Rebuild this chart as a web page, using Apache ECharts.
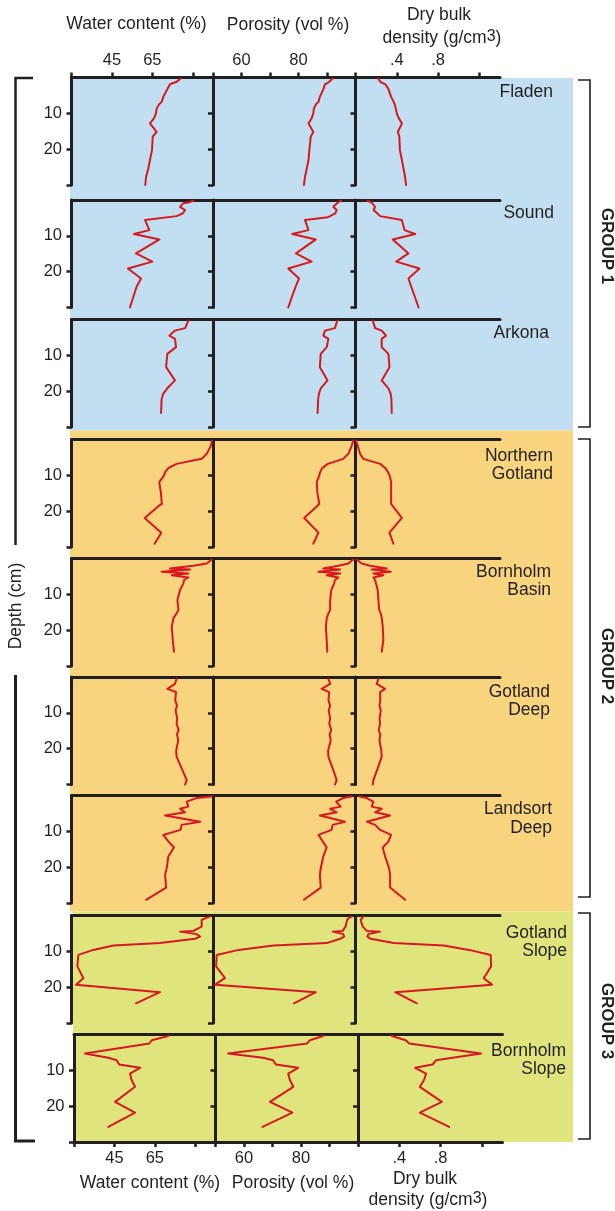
<!DOCTYPE html>
<html>
<head>
<meta charset="utf-8">
<script src="https://cdn.jsdelivr.net/npm/echarts@6/dist/echarts.min.js"></script>
<style>
  html, body { margin: 0; padding: 0; background: #ffffff; }
  #chart { width: 615px; height: 1211px; }
</style>
</head>
<body>
<div id="chart"></div>
<script>
// Sediment cores of the Baltic region: water content, porosity and dry bulk
// density against depth below the sediment surface (cm).

const stations = ['Fladen', 'Sound', 'Arkona', 'Northern\nGotland', 'Bornholm\nBasin',
                  'Gotland\nDeep', 'Landsort\nDeep', 'Gotland\nSlope', 'Bornholm\nSlope'];

const fladenDepth    = [0.3, 1.2, 1.9, 3.3, 5.4, 6.8, 7.5, 8.7, 10, 11.4, 12.8, 15.2, 16.5, 20.3, 23.1, 25.4, 27.7, 30];
const fladenWater    = [79.0, 77.0, 73.7, 72.4, 70.4, 69.6, 68.3, 67.1, 66.8, 65.8, 63.8, 67.1, 65.2, 64.8, 63.8, 63.0, 61.9, 61.5];
const fladenPorosity = [92.0, 90.8, 89.3, 88.7, 87.5, 87.0, 86.1, 85.4, 85.2, 84.6, 83.5, 85.2, 84.3, 83.8, 83.5, 82.9, 82.3, 81.9];
const fladenDensity  = [0.22, 0.24, 0.29, 0.32, 0.345, 0.37, 0.38, 0.39, 0.40, 0.42, 0.45, 0.41, 0.425, 0.43, 0.45, 0.465, 0.48, 0.49];

const soundDepth    = [0.2, 0.7, 0.9, 1.9, 2.8, 3.7, 4.5, 4.8, 5.6, 8.4, 9.5, 11.0, 14.9, 17.2, 19.1, 21.9, 24.2, 27.0, 30];
const soundWater    = [85.3, 82.8, 80.3, 78.7, 81.2, 80.1, 77.0, 76.2, 61.4, 63.5, 55.9, 68.5, 56.9, 65.0, 52.9, 59.4, 57.2, 55.6, 53.9];
const soundPorosity = [94.9, 93.8, 93.2, 92.2, 93.4, 92.9, 91.1, 90.3, 82.3, 83.5, 77.8, 86.1, 79.1, 84.6, 76.4, 80.2, 79.0, 77.7, 76.4];
const soundDensity  = [0.115, 0.157, 0.165, 0.19, 0.175, 0.21, 0.238, 0.25, 0.449, 0.475, 0.578, 0.361, 0.513, 0.394, 0.620, 0.513, 0.54, 0.575, 0.611];

const arkonaDepth    = [0.3, 2.4, 3.1, 4.5, 5.4, 7.7, 9.6, 13.3, 17.0, 19.2, 20.7, 22.1, 26.1];
const arkonaWater    = [82.8, 81.2, 76.2, 73.4, 76.2, 76.7, 72.4, 71.8, 76.2, 72.4, 70.4, 69.6, 69.3];
const arkonaPorosity = [93.6, 92.8, 89.3, 88.7, 90.5, 89.9, 87.8, 87.5, 90.2, 87.8, 87.2, 86.9, 86.7];
const arkonaDensity  = [0.167, 0.19, 0.254, 0.296, 0.254, 0.254, 0.319, 0.329, 0.254, 0.319, 0.34, 0.348, 0.351];

const nGotlandDepth    = [0.3, 1.7, 4.0, 5.4, 6.8, 8.0, 9.1, 10.0, 11.9, 14.7, 18.0, 18.4, 21.9, 26.0, 29.1];
const nGotlandWater    = [94.4, 94.0, 91.9, 89.4, 77.0, 72.9, 71.3, 70.8, 68.4, 69.2, 69.7, 68.4, 61.2, 69.4, 66.1];
const nGotlandPorosity = [99.2, 98.7, 97.5, 95.7, 90.3, 88.3, 87.6, 87.3, 86.4, 86.6, 87.3, 86.6, 82.0, 87.0, 85.2];
const nGotlandDensity  = [0.005, 0.021, 0.044, 0.076, 0.24, 0.29, 0.315, 0.33, 0.345, 0.345, 0.345, 0.352, 0.449, 0.329, 0.368];

const bBasinDepth    = [0.3, 1.4, 2.0, 2.8, 3.1, 3.7, 4.2, 4.7, 5.3, 6.0, 7.0, 8.8, 11.6, 14.4, 15.3, 16.7, 19.1, 22.8, 26.0];
const bBasinWater    = [94.4, 91.9, 85.3, 73.7, 83.6, 69.6, 82.8, 74.6, 82.8, 80.7, 80.3, 78.7, 77.4, 77.9, 77.0, 75.4, 74.6, 75.1, 75.7];
const bBasinPorosity = [99.2, 97.5, 94.0, 88.7, 94.6, 87.0, 94.6, 89.9, 94.0, 92.8, 92.5, 91.5, 91.1, 91.1, 90.5, 89.9, 89.6, 89.9, 90.1];
const bBasinDensity  = [0.011, 0.060, 0.141, 0.303, 0.157, 0.342, 0.173, 0.270, 0.173, 0.190, 0.199, 0.215, 0.222, 0.230, 0.245, 0.255, 0.264, 0.270, 0.254];

const gDeepDepth    = [0.5, 1.9, 3.3, 4.2, 6.5, 8.0, 9.3, 11.5, 13.0, 14.8, 16.0, 17.7, 20.5, 22.3, 25.5, 28.8, 30];
const gDeepWater    = [77.0, 76.2, 72.4, 76.7, 76.3, 77.2, 76.5, 77.3, 77.0, 78.0, 77.2, 77.8, 76.8, 77.0, 79.5, 82.0, 81.2];
const gDeepPorosity = [90.5, 91.1, 88.1, 90.8, 90.5, 91.1, 90.6, 91.1, 90.8, 91.5, 90.9, 91.3, 90.4, 90.5, 92.0, 93.4, 92.8];
const gDeepDensity  = [0.222, 0.206, 0.287, 0.238, 0.240, 0.232, 0.245, 0.233, 0.238, 0.225, 0.240, 0.232, 0.250, 0.254, 0.215, 0.173, 0.167];

const lDeepDepth    = [0.3, 0.7, 1.7, 3.1, 3.7, 4.7, 5.6, 7.3, 8.2, 9.6, 11.0, 12.8, 14.5, 17.0, 20.3, 22.1, 25.7, 29.1];
const lDeepWater    = [94.4, 86.9, 82.0, 82.8, 78.7, 81.2, 71.3, 88.7, 79.5, 78.9, 70.4, 72.9, 75.7, 72.9, 72.1, 71.3, 71.8, 61.9];
const lDeepPorosity = [98.7, 95.7, 93.2, 94.8, 91.1, 93.4, 87.5, 96.3, 92.0, 91.6, 87.0, 88.5, 89.9, 88.7, 87.8, 87.5, 87.8, 81.9];
const lDeepDensity  = [0.037, 0.109, 0.173, 0.157, 0.254, 0.190, 0.335, 0.109, 0.190, 0.238, 0.345, 0.32, 0.264, 0.287, 0.325, 0.335, 0.335, 0.481];

const gSlopeDepth    = [0.3, 0.6, 1.2, 3.1, 4.3, 4.5, 5.2, 5.9, 6.5, 7.7, 8.4, 9.6, 11.0, 14.2, 17.5, 19.3, 21.4, 24.5];
const gSlopeWater    = [93.5, 91.9, 89.4, 89.4, 85.3, 78.7, 86.9, 88.6, 86.1, 68.8, 45.7, 35.8, 28.4, 27.9, 30.9, 27.2, 68.8, 56.9];
const gSlopePorosity = [98.7, 97.8, 97.1, 96.5, 95.5, 92.0, 95.7, 96.0, 94.6, 89.9, 71.2, 59.0, 51.3, 51.1, 54.2, 50.7, 86.1, 78.4];
const gSlopeDensity  = [0.076, 0.06, 0.05, 0.07, 0.11, 0.238, 0.125, 0.115, 0.147, 0.37, 0.854, 1.10, 1.31, 1.314, 1.242, 1.323, 0.384, 0.594];

const bSlopeDepth    = [0.4, 1.6, 2.5, 5.3, 6.5, 7.2, 8.4, 9.3, 10.9, 12.7, 14.6, 18.8, 21.8, 25.8];
const bSlopeWater    = [71.7, 63.4, 62.3, 30.4, 42.0, 46.1, 47.4, 57.7, 52.7, 53.5, 55.2, 45.3, 55.2, 42.0];
const bSlopePorosity = [87.8, 83.1, 82.2, 54.4, 66.7, 70.2, 71.2, 79.0, 75.5, 76.1, 77.3, 69.1, 77.0, 66.5];
const bSlopeDensity  = [0.327, 0.463, 0.496, 1.192, 0.917, 0.755, 0.722, 0.554, 0.66, 0.64, 0.599, 0.813, 0.599, 0.884];

// axis ticks and tick labels
const waterTicks     = [25, 45, 65, 85];
const waterLabels    = [45, 65];
const porosityTicks  = [50, 60, 70, 80, 90, 100];
const porosityLabels = [60, 80];
const densityTicks   = [0, 0.4, 0.8, 1.2];
const densityLabels  = [0.4, 0.8];
const depthTicks     = [10, 20, 30];
const depthLabels    = [10, 20];

const profiles = [
  { depth: fladenDepth,   water: fladenWater,   porosity: fladenPorosity,   density: fladenDensity },
  { depth: soundDepth,    water: soundWater,    porosity: soundPorosity,    density: soundDensity },
  { depth: arkonaDepth,   water: arkonaWater,   porosity: arkonaPorosity,   density: arkonaDensity },
  { depth: nGotlandDepth, water: nGotlandWater, porosity: nGotlandPorosity, density: nGotlandDensity },
  { depth: bBasinDepth,   water: bBasinWater,   porosity: bBasinPorosity,   density: bBasinDensity },
  { depth: gDeepDepth,    water: gDeepWater,    porosity: gDeepPorosity,    density: gDeepDensity },
  { depth: lDeepDepth,    water: lDeepWater,    porosity: lDeepPorosity,    density: lDeepDensity },
  { depth: gSlopeDepth,   water: gSlopeWater,   porosity: gSlopePorosity,   density: gSlopeDensity },
  { depth: bSlopeDepth,   water: bSlopeWater,   porosity: bSlopePorosity,   density: bSlopeDensity }
];

// ---- layout ----
const INK = '#231f20';
const RED = '#d7191f';
const FONT = '"Liberation Sans", Arial, Helvetica, sans-serif';
const panelTops   = [77.5, 200, 319.5, 439.5, 558.5, 677, 795.5, 915.5, 1034.5];
const panelShift  = [0, 0, 0, 0, 0, 0, 0, 0, 2.5];
const panelHeight = 107.5;
const labelPos = [
  [553, 92], [554, 213], [549, 333], [553, 465], [551, 581],
  [550, 701], [552, 818.5], [567, 942], [566, 1060]
];

const fmtDensity = v => String(+v.toFixed(1)).replace(/^0\./, '.');
const columns = [
  { key: 'water',    left: 71.5,  width: 141.5, min: 25, max: 95,  ticks: waterTicks,    labels: waterLabels,    fmt: v => String(v) },
  { key: 'porosity', left: 213,   width: 142.5, min: 50, max: 100, ticks: porosityTicks, labels: porosityLabels, fmt: v => String(v) },
  { key: 'density',  left: 355.5, width: 144.5, min: 0,  max: 1.4, ticks: densityTicks,  labels: densityLabels,  fmt: fmtDensity }
];

const grid = [], xAxis = [], yAxis = [], series = [];

profiles.forEach((p, s) => {
  columns.forEach((col, c) => {
    const gi = grid.length;
    grid.push({ left: col.left + panelShift[s], top: panelTops[s], width: col.width, height: panelHeight });

    const xTop = xAxis.length;
    xAxis.push({
      gridIndex: gi, type: 'value', position: 'top', min: col.min, max: col.max,
      axisLine: { show: true, onZero: false, lineStyle: { color: INK, width: 3 } },
      axisTick: { show: s === 0, customValues: col.ticks, length: 5, lineStyle: { color: INK, width: 2.5 } },
      axisLabel: { show: s === 0, customValues: col.labels, formatter: col.fmt, margin: 9,
                   color: INK, fontSize: 16.5, fontFamily: FONT },
      splitLine: { show: false }
    });
    if (s === profiles.length - 1) {
      xAxis.push({
        gridIndex: gi, type: 'value', position: 'bottom', min: col.min, max: col.max,
        axisLine: { show: true, onZero: false, lineStyle: { color: INK, width: 3 } },
        axisTick: { show: true, customValues: col.ticks, length: 5, lineStyle: { color: INK, width: 2.5 } },
        axisLabel: { show: true, customValues: col.labels, formatter: col.fmt, margin: 8,
                     color: INK, fontSize: 16.5, fontFamily: FONT },
        splitLine: { show: false }
      });
    }

    yAxis.push({
      gridIndex: gi, type: 'value', inverse: true, min: 0, max: 30, position: 'left',
      axisLine: { show: true, onZero: false, lineStyle: { color: INK, width: 3 } },
      axisTick: { show: true, customValues: depthTicks, length: 5, lineStyle: { color: INK, width: 2.5 } },
      axisLabel: { show: c === 0, customValues: depthLabels, margin: 9.5,
                   color: INK, fontSize: 16.5, fontFamily: FONT },
      splitLine: { show: false }
    });

    const values = p[col.key];
    series.push({
      type: 'line', xAxisIndex: xTop, yAxisIndex: gi,
      data: p.depth.map((d, i) => [values[i], d]),
      symbol: 'none', silent: true, clip: false, z: 3,
      lineStyle: { color: RED, width: 2, join: 'round', cap: 'round' }
    });
  });
});

// ---- backgrounds, brackets and text ----
function txt(text, x, y, opts) {
  opts = opts || {};
  return {
    type: 'text', x: x, y: y, rotation: opts.rotation || 0, z: 5,
    style: {
      text: text, fill: INK,
      font: (opts.weight || 'normal') + ' ' + (opts.size || 17.5) + 'px ' + FONT,
      align: opts.align || 'center', textAlign: opts.align || 'center',
      verticalAlign: 'middle', textVerticalAlign: 'middle',
      lineHeight: 18.5,
      rich: opts.rich
    }
  };
}
const supRich = {
  t: { fontSize: 17.5, fontFamily: FONT, color: INK },
  s: { fontSize: 16, fontFamily: FONT, color: INK, verticalAlign: 'top', padding: [0, 0, 3, 0] }
};
const bracket = pts => ({ type: 'polyline', z: 5, shape: { points: pts },
                          style: { stroke: INK, lineWidth: 1.6, fill: null } });

const graphic = [
  { type: 'rect', z: -10, shape: { x: 70, y: 78, width: 503, height: 352.5 }, style: { fill: '#c1dff0' } },
  { type: 'rect', z: -10, shape: { x: 70, y: 430.5, width: 503, height: 481 }, style: { fill: '#f9d47f' } },
  { type: 'rect', z: -10, shape: { x: 73, y: 911.5, width: 500, height: 230.5 }, style: { fill: '#dfe57c' } },

  // column titles
  txt('Water content (%)', 136.5, 24),
  txt('Porosity (vol %)', 288, 25),
  txt('Dry bulk', 439, 15),
  txt('{t|density (g/cm}{s|3}{t|)}', 442, 38, { rich: supRich }),
  txt('Water content (%)', 150, 1183),
  txt('Porosity (vol %)', 293, 1183),
  txt('Dry bulk', 425, 1179),
  txt('{t|density (g/cm}{s|3}{t|)}', 428, 1200, { rich: supRich }),

  // depth label with its brackets
  txt('Depth (cm)', 16, 606, { rotation: Math.PI / 2 }),
  { type: 'polyline', z: 5, shape: { points: [[33, 78], [15.5, 78], [15.5, 545]] },
    style: { stroke: INK, lineWidth: 2.5, fill: null } },
  { type: 'polyline', z: 5, shape: { points: [[15.5, 675], [15.5, 1141], [35, 1141]] },
    style: { stroke: INK, lineWidth: 3, fill: null } },

  // group brackets
  bracket([[578, 80], [590, 80], [590, 427], [578, 427]]),
  bracket([[578, 439], [590, 439], [590, 897], [578, 897]]),
  bracket([[578, 913], [590, 913], [590, 1139], [578, 1139]]),
  txt('GROUP 1', 607, 246, { rotation: -Math.PI / 2, weight: 'bold', size: 17 }),
  txt('GROUP 2', 607, 666, { rotation: -Math.PI / 2, weight: 'bold', size: 17 }),
  txt('GROUP 3', 607, 1021, { rotation: -Math.PI / 2, weight: 'bold', size: 17 })
];

stations.forEach((name, s) => {
  graphic.push(txt(name, labelPos[s][0], labelPos[s][1], { align: 'right' }));
});

const chart = echarts.init(document.getElementById('chart'), null, { renderer: 'canvas' });
chart.setOption({
  animation: false,
  backgroundColor: '#ffffff',
  grid: grid,
  xAxis: xAxis,
  yAxis: yAxis,
  series: series,
  graphic: graphic
});
</script>
</body>
</html>
